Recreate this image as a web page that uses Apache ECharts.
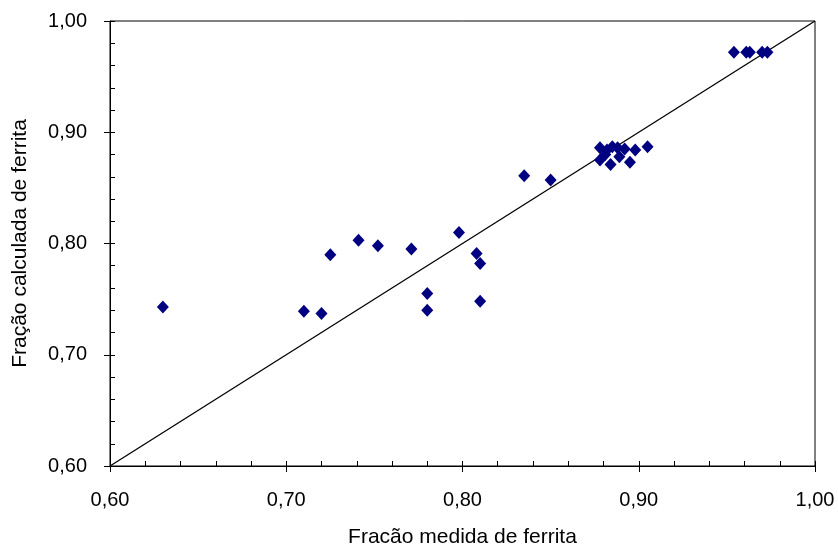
<!DOCTYPE html>
<html>
<head>
<meta charset="utf-8">
<script src="https://cdn.jsdelivr.net/npm/echarts@6/dist/echarts.min.js"></script>
<style>
  html, body { margin: 0; padding: 0; background: #fff; }
  #chart { width: 838px; height: 546px; }
</style>
</head>
<body>
<div id="chart"></div>
<script>
// medida (x) x calculada (y)
var medida = [
  0.630, 0.710, 0.720, 0.725, 0.741, 0.752, 0.771, 0.780, 0.780, 0.798,
  0.808, 0.810, 0.810, 0.835, 0.850,
  0.878, 0.882, 0.885, 0.888, 0.892, 0.898, 0.905, 0.878, 0.884, 0.889, 0.895, 0.881,
  0.954, 0.961, 0.963, 0.970, 0.973
];
var calculada = [
  0.743, 0.739, 0.737, 0.790, 0.803, 0.798, 0.795, 0.755, 0.740, 0.810,
  0.791, 0.782, 0.748, 0.861, 0.857,
  0.886, 0.884, 0.887, 0.886, 0.885, 0.884, 0.887, 0.875, 0.871, 0.878, 0.873, 0.880,
  0.972, 0.972, 0.972, 0.972, 0.972
];
// linha 1:1
var linhaX = [0.60, 1.00];
var linhaY = [0.60, 1.00];

var chart = echarts.init(document.getElementById('chart'));

var fmt = function (v) { return v.toFixed(2).replace('.', ','); };
var fonte = 'Liberation Sans, Arial, sans-serif';

var pontos = medida.map(function (x, i) { return [x, calculada[i]]; });
var linha = linhaX.map(function (x, i) { return [x, linhaY[i]]; });

var option = {
  animation: false,
  grid: {
    left: 110, right: 23, top: 21, bottom: 80,
    outerBoundsMode: 'none',
    show: true, borderColor: '#000', borderWidth: 1
  },
  xAxis: [{
    type: 'value', min: 0.6, max: 1.0, interval: 0.1,
    name: 'Fracão medida de ferrita',
    nameLocation: 'middle', nameGap: 61,
    nameTextStyle: { fontFamily: fonte, fontSize: 21, color: '#000' },
    axisLine: { onZero: false, lineStyle: { color: '#000', width: 1 } },
    axisTick: { inside: false, length: 6, lineStyle: { color: '#000' } },
    axisLabel: { margin: 24, fontFamily: fonte, fontSize: 20, color: '#000', formatter: fmt },
    splitLine: { show: false }
  }, {
    type: 'value', min: 0.6, max: 1.0, interval: 0.02, position: 'bottom',
    axisLine: { show: false },
    axisTick: { inside: true, length: 5, lineStyle: { color: '#000' } },
    axisLabel: { show: false },
    splitLine: { show: false }
  }],
  yAxis: [{
    type: 'value', min: 0.6, max: 1.0, interval: 0.1,
    name: 'Fração calculada de ferrita',
    nameLocation: 'middle', nameGap: 79,
    nameTextStyle: { fontFamily: fonte, fontSize: 21, color: '#000' },
    axisLine: { onZero: false, lineStyle: { color: '#000', width: 1 } },
    axisTick: { inside: false, length: 6, lineStyle: { color: '#000' } },
    axisLabel: { margin: 23, fontFamily: fonte, fontSize: 20, color: '#000', formatter: fmt },
    splitLine: { show: false }
  }, {
    type: 'value', min: 0.6, max: 1.0, interval: 0.02, position: 'left',
    axisLine: { show: false },
    axisTick: { inside: true, length: 5, lineStyle: { color: '#000' } },
    axisLabel: { show: false },
    splitLine: { show: false }
  }],
  series: [{
    type: 'line',
    data: linha,
    symbol: 'none',
    lineStyle: { color: '#000', width: 1.3 },
    silent: true,
    z: 1
  }, {
    type: 'scatter',
    data: pontos,
    symbol: 'diamond',
    symbolSize: [12, 13],
    itemStyle: { color: '#000080', opacity: 1 },
    z: 3
  }]
};

chart.setOption(option);
</script>
</body>
</html>
